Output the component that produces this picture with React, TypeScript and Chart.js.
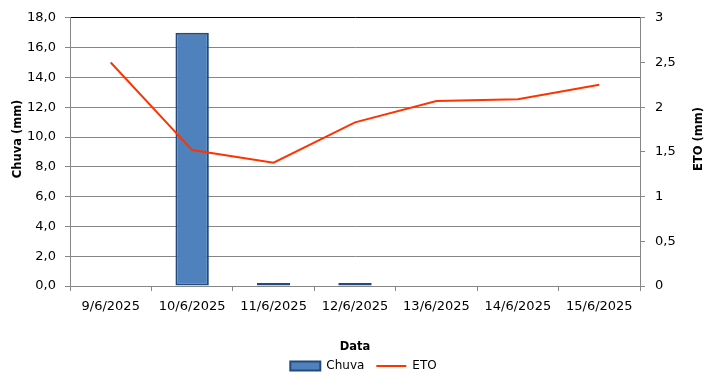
import React, { useEffect, useRef } from "react";
import { Chart, registerables } from "chart.js";

Chart.register(...registerables);

const categories = ["9/6/2025", "10/6/2025", "11/6/2025", "12/6/2025", "13/6/2025", "14/6/2025", "15/6/2025"];
const chuva = [0, 17.0, 0.2, 0.2, 0, 0, 0];
const eto = [2.5, 1.52, 1.38, 1.83, 2.07, 2.09, 2.25];
const leftTickLabels = ["0,0", "2,0", "4,0", "6,0", "8,0", "10,0", "12,0", "14,0", "16,0", "18,0"];
const rightTickLabels = ["0", "0,5", "1", "1,5", "2", "2,5", "3"];

const FONT = "'DejaVu Sans', Verdana, sans-serif";
const GRID = "#868686";

const sideTitlesPlugin = {
  id: "sideTitles",
  afterDraw(chart: any) {
    const { ctx, chartArea } = chart;
    const draw = (text: string, x: number) => {
      ctx.save();
      ctx.translate(x, (chartArea.top + chartArea.bottom) / 2 - 13);
      ctx.rotate(-Math.PI / 2);
      ctx.textAlign = "center";
      ctx.textBaseline = "middle";
      ctx.fillStyle = "#000";
      ctx.font = `bold 11.5px ${FONT}`;
      ctx.fillText(text, 0, 0);
      ctx.restore();
    };
    draw(chart.options.scales.y.title.text, chart.scales.y.left + 18);
    draw(chart.options.scales.y1.title.text, chart.scales.y1.right - 28);
  },
};

export default function App() {
  const ref = useRef<HTMLCanvasElement>(null);
  useEffect(() => {
    const chart = new Chart(ref.current!, {
      type: "bar",
      data: {
        labels: categories,
        datasets: [
          {
            type: "bar",
            label: "Chuva",
            data: chuva,
            backgroundColor: "#4F81BD",
            borderColor: "#224A7C",
            borderWidth: 2,
            borderSkipped: false,
            barPercentage: 0.41,
            categoryPercentage: 1,
            yAxisID: "y",
            order: 1,
            pointStyle: "rect",
          } as any,
          {
            type: "line",
            label: "ETO",
            data: eto,
            borderColor: "#FF3300",
            backgroundColor: "#FF3300",
            borderWidth: 2,
            pointRadius: 0,
            tension: 0,
            yAxisID: "y1",
            order: 0,
            pointStyle: "line",
          } as any,
        ],
      },
      options: {
        responsive: false,
        animation: false,
        layout: { padding: { top: 16, bottom: 3, left: 0, right: 0 } },
        plugins: {
          tooltip: { enabled: false },
          legend: {
            position: "bottom",
            labels: {
              usePointStyle: true,
              pointStyleWidth: 30,
              boxHeight: 9,
              boxWidth: 30,
              padding: 12,
              color: "#000",
              font: { family: FONT, size: 12 },
              sort: (a: any, b: any) => a.datasetIndex - b.datasetIndex,
            },
          },
        },
        scales: {
          x: {
            offset: true,
            grid: { offset: true, drawOnChartArea: false, tickLength: 5, color: GRID },
            border: { display: true, color: GRID },
            ticks: { color: "#000", font: { family: FONT, size: 13 }, padding: 8, maxRotation: 0 },
            title: {
              display: true,
              text: "Data",
              color: "#000",
              font: { family: FONT, size: 11.5, weight: "bold" },
              padding: { top: 0, bottom: -6 },
            },
            afterFit: (s: any) => {
              s.height = 62;
            },
          },
          y: {
            position: "left",
            min: 0,
            max: 18,
            ticks: {
              stepSize: 2,
              color: "#000",
              font: { family: FONT, size: 13 },
              padding: 9,
              callback: (_v: any, i: number) => leftTickLabels[i],
            },
            grid: {
              color: (c: any) => (c.tick && c.tick.value === 18 ? "#000" : GRID),
              tickColor: GRID,
              tickLength: 5,
            },
            border: { display: true, color: GRID },
            title: { display: false, text: "Chuva (mm)" },
            afterFit: (s: any) => {
              s.width = 70;
            },
          },
          y1: {
            position: "right",
            min: 0,
            max: 3,
            ticks: {
              stepSize: 0.5,
              color: "#000",
              font: { family: FONT, size: 13 },
              padding: 10,
              callback: (_v: any, i: number) => rightTickLabels[i],
            },
            grid: { drawOnChartArea: false, color: GRID, tickLength: 5 },
            border: { display: true, color: GRID },
            title: { display: false, text: "ETO (mm)" },
            afterFit: (s: any) => {
              s.width = 87;
            },
          },
        },
      } as any,
      plugins: [sideTitlesPlugin],
    });
    return () => chart.destroy();
  }, []);
  return (
    <div style={{ position: "fixed", left: 0, top: 0, width: 727, height: 385, background: "#fff" }}>
      <canvas ref={ref} width={727} height={385} style={{ width: 727, height: 385, display: "block" }} />
    </div>
  );
}
